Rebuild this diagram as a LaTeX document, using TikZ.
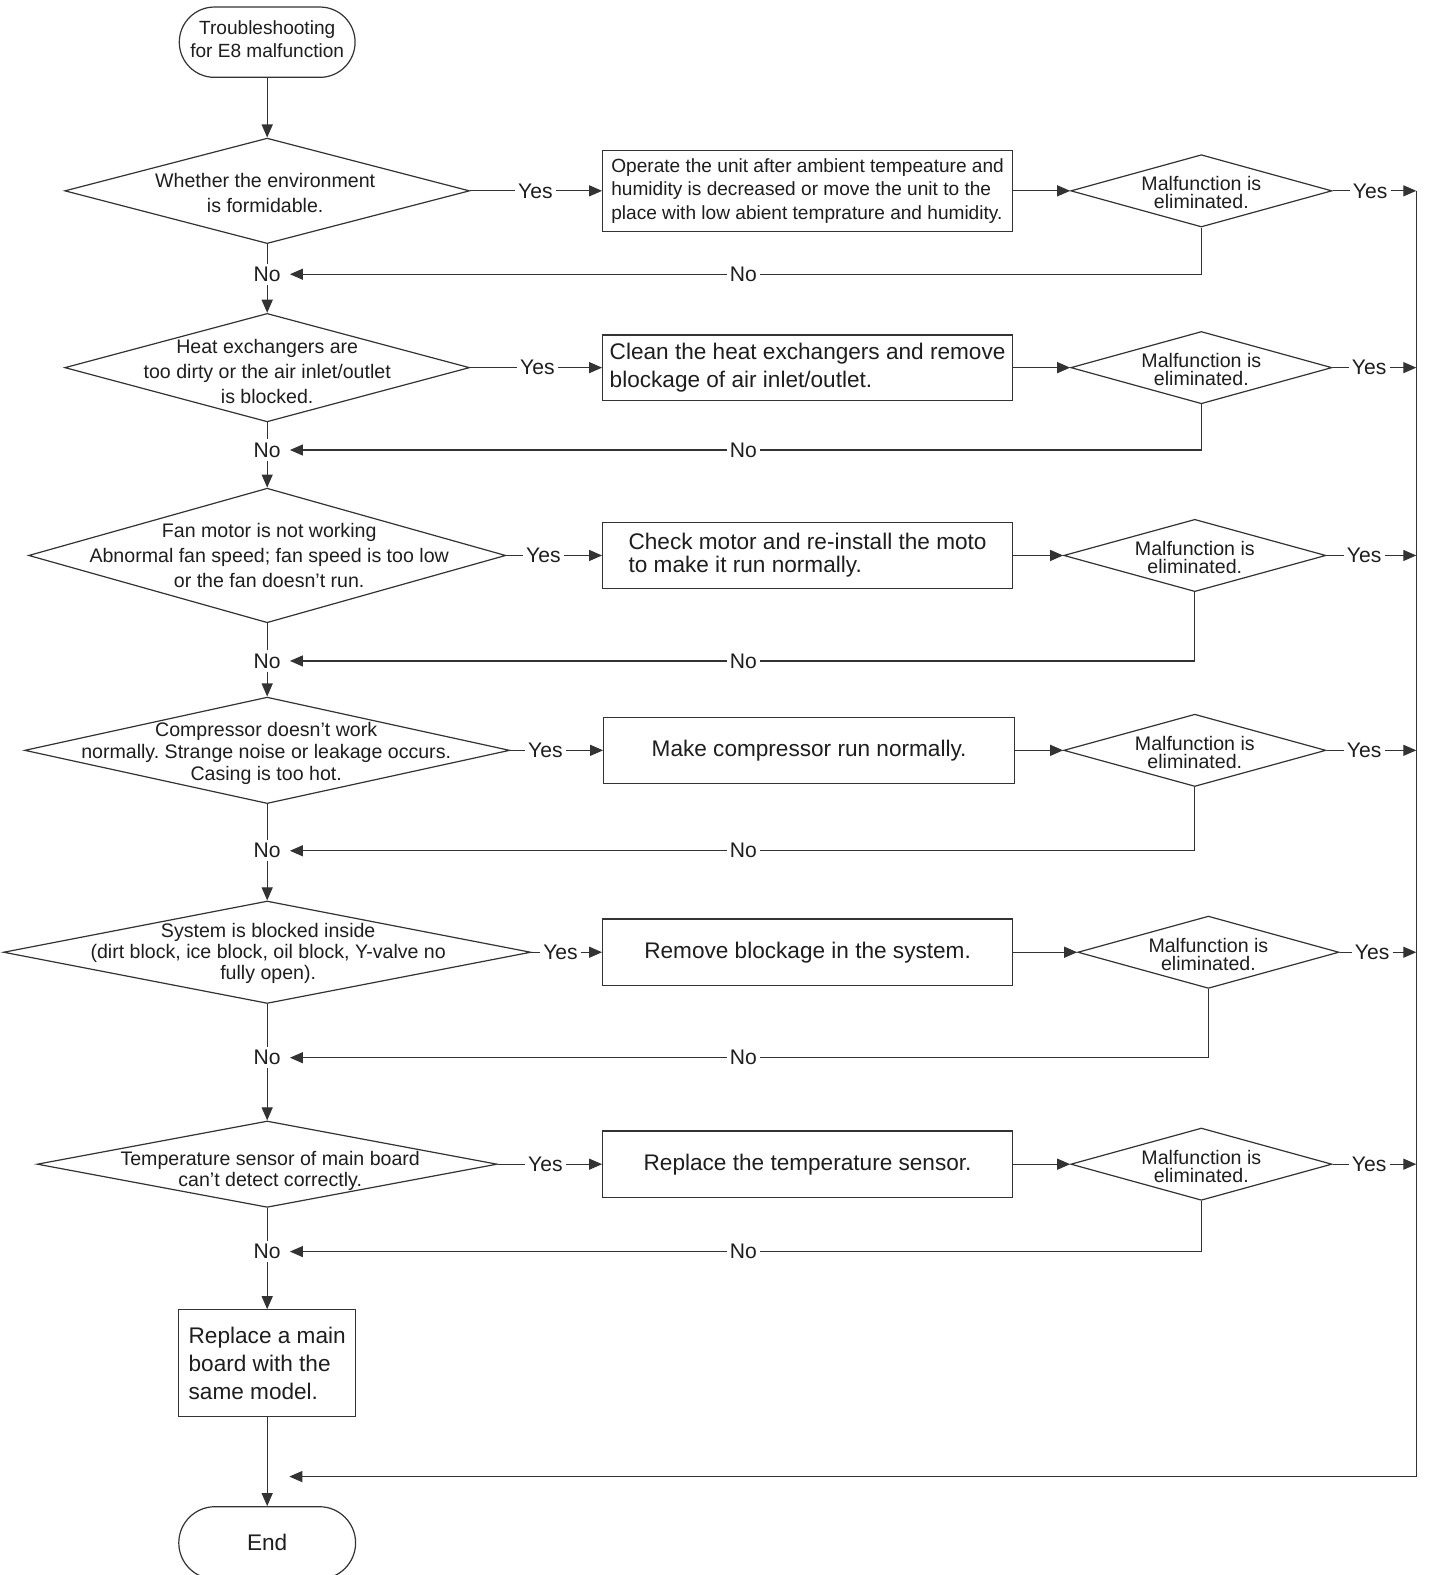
\documentclass[tikz,border=0pt]{standalone}
\usepackage{fontspec}
\setmainfont{Liberation Sans}
\usetikzlibrary{shapes.geometric,arrows.meta}
\definecolor{lc}{HTML}{333333}
\definecolor{tc}{HTML}{1E1E1E}
\frenchspacing
\begin{document}
\begin{tikzpicture}[x=1pt,y=-1pt,
 ln/.style={draw=lc, line width=1.2pt},
 arr/.style={ln, -{Triangle[length=13pt,width=11pt]}},
 dia/.style={diamond, draw=lc, line width=1.2pt, inner sep=0pt},
 box/.style={rectangle, draw=lc, line width=1.2pt, inner sep=2pt, align=left, text=tc},
 term/.style={rectangle, draw=lc, line width=1.2pt, align=center, text=tc},
 dtxt/.style={align=center, inner sep=0pt, text=tc, font=\fontsize{19.5}{25}\selectfont},
 mtxt/.style={align=center, inner sep=0pt, text=tc, font=\fontsize{19.5}{18}\selectfont},
 lbl/.style={fill=white, inner xsep=3pt, inner ysep=2pt, text=tc, font=\fontsize{21}{21}\selectfont},
 nol/.style={lbl, inner xsep=9pt, inner ysep=3pt},
]
\useasboundingbox (0,0) rectangle (1422,1568);
\fill[white] (0,0) rectangle (1422,1568);

% terminals
\node[term, rounded corners=35pt, minimum width=175pt, minimum height=70pt] (st) at (266,42) {};
\node[align=center, inner sep=0pt, text=tc, font=\fontsize{19}{23}\selectfont] (stt) at (266,39) {Troubleshooting\\for E8 malfunction};
\node[term, rounded corners=36pt, minimum width=176pt, minimum height=72pt, font=\fontsize{22.5}{22.5}\selectfont] (en) at (266,1536) {End};

% main diamonds
\node[dia, minimum width=403pt, minimum height=105pt] (d1) at (266,190) {};
\node[dia, minimum width=403pt, minimum height=108pt] (d2) at (266,366) {};
\node[dia, minimum width=475pt, minimum height=134pt] (d3) at (266,553) {};
\node[dia, minimum width=483pt, minimum height=106pt] (d4) at (266,747) {};
\node[dia, minimum width=525pt, minimum height=102pt] (d5) at (266,948) {};
\node[dia, minimum width=458pt, minimum height=86pt] (d6) at (266,1159) {};

\node[dtxt] (t1) at (264,192.5) {Whether the environment\\is formidable.};
\node[dtxt] (t2) at (266,369.5) {Heat exchangers are\\too dirty or the air inlet/outlet\\is blocked.};
\node[dtxt] (t3) at (268,553) {Fan motor is not working\\Abnormal fan speed; fan speed is too low\\or the fan doesn't run.};
\node[dtxt, font=\fontsize{19.5}{22}\selectfont] (t4) at (265,750) {Compressor doesn't work\\normally. Strange noise or leakage occurs.\\Casing is too hot.};
\node[dtxt, font=\fontsize{19.5}{21}\selectfont] (t5) at (267,949) {System is blocked inside\\(dirt block, ice block, oil block, Y-valve no\\fully open).};
\node[dtxt, font=\fontsize{19.5}{21}\selectfont] (t6) at (269,1165.5) {Temperature sensor of main board\\can't detect correctly.};

% action boxes
\node[box, minimum width=408pt, minimum height=81pt, font=\fontsize{19}{23.5}\selectfont] (b1) at (804,190) {Operate the unit after ambient tempeature and\\humidity is decreased or move the unit to the\\place with low abient temprature and humidity.};
\node[box, minimum width=408pt, minimum height=65pt, font=\fontsize{22.5}{28}\selectfont] (b2) at (804,366) {Clean the heat exchangers and remove\\blockage of air inlet/outlet.};
\node[box, minimum width=408pt, minimum height=65pt, font=\fontsize{22.5}{23}\selectfont] (b3) at (804,553) {Check motor and re-install the moto\\to make it run normally.};
\node[box, minimum width=409pt, minimum height=66pt, font=\fontsize{22.5}{23}\selectfont] (b4) at (805.5,747) {Make compressor run normally.};
\node[box, minimum width=408pt, minimum height=66pt, font=\fontsize{22.5}{23}\selectfont] (b5) at (804,948) {Remove blockage in the system.};
\node[box, minimum width=408pt, minimum height=66pt, font=\fontsize{22.5}{23}\selectfont] (b6) at (804,1159) {Replace the temperature sensor.};
\node[box, minimum width=176pt, minimum height=106pt, font=\fontsize{22.5}{28}\selectfont] (b7) at (266,1357) {Replace a main\\board with the\\same model.};

% check diamonds
\node[dia, minimum width=260pt, minimum height=72pt] (r1) at (1196,190) {};
\node[dia, minimum width=260pt, minimum height=72pt] (r2) at (1196,366) {};
\node[dia, minimum width=261pt, minimum height=72pt] (r3) at (1189.5,553) {};
\node[dia, minimum width=261pt, minimum height=72pt] (r4) at (1189.5,747) {};
\node[dia, minimum width=260pt, minimum height=72pt] (r5) at (1203,948) {};
\node[dia, minimum width=260pt, minimum height=72pt] (r6) at (1196,1159) {};
\foreach \i/\x/\y in {1/1196/192, 2/1196/368, 3/1189.5/555, 4/1189.5/749, 5/1203/950, 6/1196/1161}
  \node[mtxt] (rt\i) at (\x,\y) {Malfunction is\\eliminated.};

% right collector line
\coordinate (ctop) at (1410,190);
\coordinate (cbot) at (1410,1470);
\coordinate (cend) at (288,1470);
\draw[ln] (ctop) -- (cbot);
\draw[arr] (cbot) -- (cend);

% main No labels
\node[nol] (n1) at (266,273) {No};
\node[nol] (n2) at (266,448) {No};
\node[nol] (n3) at (266,658) {No};
\node[nol] (n4) at (266,847) {No};
\node[nol] (n5) at (266,1053) {No};
\node[nol] (n6) at (266,1246) {No};

% middle No labels
\node[lbl] (m1) at (740,273) {No};
\node[lbl] (m2) at (740,448) {No};
\node[lbl] (m3) at (740,658) {No};
\node[lbl] (m4) at (740,847) {No};
\node[lbl] (m5) at (740,1053) {No};
\node[lbl] (m6) at (740,1246) {No};

% left Yes labels
\node[lbl] (y1) at (533,190) {Yes};
\node[lbl] (y2) at (535,366) {Yes};
\node[lbl] (y3) at (541,553) {Yes};
\node[lbl] (y4) at (543,747) {Yes};
\node[lbl] (y5) at (558,948) {Yes};
\node[lbl] (y6) at (543,1159) {Yes};

% right Yes labels
\node[lbl] (z1) at (1364,190) {Yes};
\node[lbl] (z2) at (1363,366) {Yes};
\node[lbl] (z3) at (1358,553) {Yes};
\node[lbl] (z4) at (1358,747) {Yes};
\node[lbl] (z5) at (1366,948) {Yes};
\node[lbl] (z6) at (1363,1159) {Yes};

% main column
\draw[arr] (st) -- (d1);
\draw[ln] (d1.south) -- (n1.north);
\draw[arr] (n1.south) -- (d2.north);
\draw[ln] (d2.south) -- (n2.north);
\draw[arr] (n2.south) -- (d3.north);
\draw[ln] (d3.south) -- (n3.north);
\draw[arr] (n3.south) -- (d4.north);
\draw[ln] (d4.south) -- (n4.north);
\draw[arr] (n4.south) -- (d5.north);
\draw[ln] (d5.south) -- (n5.north);
\draw[arr] (n5.south) -- (d6.north);
\draw[ln] (d6.south) -- (n6.north);
\draw[arr] (n6.south) -- (b7.north);
\draw[arr] (b7.south) -- (en.north);

% rows
\foreach \i in {1,...,6}{
  \draw[ln] (d\i.east) -- (y\i);
  \draw[arr] (y\i) -- (y\i -| b\i.west);
  \draw[arr] (b\i.east) -- (b\i.east -| r\i.west);
  \draw[ln] (r\i.east) -- (z\i);
  \draw[arr] (z\i) -- (z\i -| ctop);
  \draw[ln] (r\i.south) |- (m\i);
  \draw[arr] (m\i) -- (n\i);
}
\end{tikzpicture}
\end{document}
